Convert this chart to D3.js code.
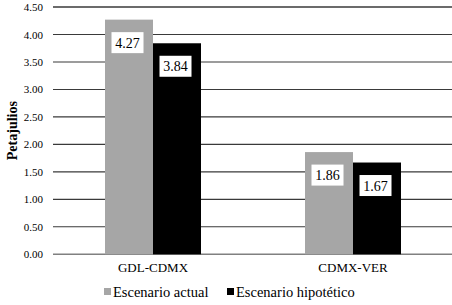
<!DOCTYPE html>
<html>
<head>
<meta charset="utf-8">
<script src="https://cdn.jsdelivr.net/npm/d3@7"></script>
<style>
  body { margin: 0; background: #fff; }
  svg text { fill: #000; }
</style>
</head>
<body>
<div id="chart"></div>
<script>
// Chart data
const categories = ["GDL-CDMX", "CDMX-VER"];
const seriesNames = ["Escenario actual", "Escenario hipotético"];
const actualValues = [4.27, 1.86];
const hypoValues = [3.84, 1.67];
const yTicks = [0, 0.5, 1, 1.5, 2, 2.5, 3, 3.5, 4, 4.5];
const seriesColors = ["#a6a6a6", "#000000"];

const serif = "'Liberation Serif', 'Times New Roman', Times, 'DejaVu Serif', serif";

const width = 452;
const height = 305;
const margin = { top: 7, right: -1, bottom: 50.7, left: 53 };

const svg = d3.select("#chart")
    .append("svg")
    .attr("width", width)
    .attr("height", height)
    .style("font-family", serif);

// Scales
const yScale = d3.scaleLinear()
    .domain([0, 4.5])
    .range([height - margin.bottom, margin.top]);

const x0 = d3.scaleBand()
    .domain(categories)
    .range([margin.left, width - margin.right]);

const x1 = d3.scaleBand()
    .domain(seriesNames)
    .range([52, 148]);

const color = d3.scaleOrdinal().domain(seriesNames).range(seriesColors);

// Gridlines
svg.append("g")
    .selectAll("line")
    .data(yTicks)
    .enter()
    .append("line")
    .attr("x1", margin.left)
    .attr("x2", width - margin.right)
    .attr("y1", d => yScale(d))
    .attr("y2", d => yScale(d))
    .attr("stroke", d => d === 0 ? "#808080" : "#3a3a3a")
    .attr("stroke-width", d => d === 0 || d === 4.5 ? 1.4 : 1.1);

// Y axis labels
const yAxis = svg.append("g")
    .attr("transform", `translate(${margin.left}, 0)`)
    .call(d3.axisLeft(yScale).tickValues(yTicks).tickFormat(d3.format(".2f")).tickSize(0).tickPadding(10));
yAxis.attr("font-family", null);
yAxis.select(".domain").remove();
yAxis.selectAll("text")
    .style("font-family", serif)
    .style("font-size", "11px")
    .attr("fill", "#000");

// Y axis title
svg.append("text")
    .attr("transform", `translate(17, ${(yScale(0) + yScale(4.5)) / 2}) rotate(-90)`)
    .attr("text-anchor", "middle")
    .style("font-family", serif)
    .style("font-size", "14px")
    .style("font-weight", "bold")
    .text("Petajulios");

// Data in rows
const rows = categories.map((c, i) => ({
    category: c,
    values: [
        { name: seriesNames[0], value: actualValues[i] },
        { name: seriesNames[1], value: hypoValues[i] }
    ]
}));

const groups = svg.selectAll(".group")
    .data(rows)
    .enter()
    .append("g")
    .attr("class", "group")
    .attr("transform", d => `translate(${x0(d.category)}, 0)`);

groups.selectAll("rect.bar")
    .data(d => d.values)
    .enter()
    .append("rect")
    .attr("class", "bar")
    .attr("x", d => x1(d.name))
    .attr("width", x1.bandwidth())
    .attr("y", d => yScale(d.value))
    .attr("height", d => yScale(0) - yScale(d.value))
    .attr("fill", d => color(d.name));

// Value labels in white boxes
const boxW = 32, boxH = 21;
groups.selectAll("rect.box")
    .data(d => d.values)
    .enter()
    .append("rect")
    .attr("class", "box")
    .attr("x", d => x1(d.name) + x1.bandwidth() / 2 - boxW / 2 - 1.5)
    .attr("y", d => yScale(d.value) + 12.5)
    .attr("width", boxW)
    .attr("height", boxH)
    .attr("fill", "#fff");

groups.selectAll("text.val")
    .data(d => d.values)
    .enter()
    .append("text")
    .attr("class", "val")
    .attr("x", d => x1(d.name) + x1.bandwidth() / 2 - 1.5)
    .attr("y", d => yScale(d.value) + 12.5 + boxH / 2 + 5)
    .attr("text-anchor", "middle")
    .style("font-family", serif)
    .style("font-size", "14px")
    .text(d => d.value.toFixed(2));

// Category labels
svg.selectAll(".cat")
    .data(categories)
    .enter()
    .append("text")
    .attr("class", "cat")
    .attr("x", d => x0(d) + x0.bandwidth() / 2)
    .attr("y", yScale(0) + 18)
    .attr("text-anchor", "middle")
    .style("font-family", serif)
    .style("font-size", "13px")
    .text(d => d);

// Legend
const legendX = [104, 227];
const legend = svg.selectAll(".legend")
    .data(seriesNames)
    .enter()
    .append("g")
    .attr("class", "legend")
    .attr("transform", (d, i) => `translate(${legendX[i]}, 292)`);

legend.append("rect")
    .attr("x", 0)
    .attr("y", -4)
    .attr("width", 7)
    .attr("height", 7)
    .attr("fill", d => color(d));

legend.append("text")
    .attr("x", 9)
    .attr("y", 5)
    .style("font-family", serif)
    .style("font-size", "14.5px")
    .text(d => d);
</script>
</body>
</html>
